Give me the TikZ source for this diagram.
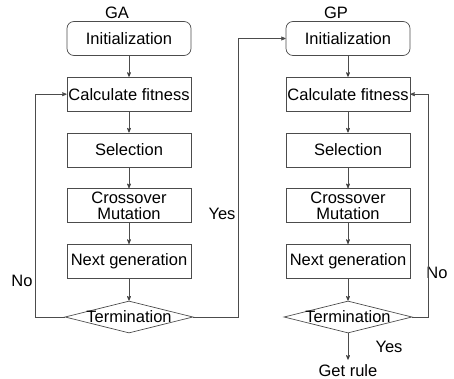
\documentclass[tikz,border=0pt]{standalone}
\usepackage{fontspec}
\setmainfont{Liberation Sans}
\usetikzlibrary{arrows,positioning,shapes.geometric}

\begin{document}
\begin{tikzpicture}[x=1pt,y=-1pt,>=stealth',node distance=55.7pt,
  every node/.style={font=\fontsize{16.5}{18}\selectfont},
  line/.style={draw=black!70,line width=0.7pt},
  proc/.style={draw=black!70,line width=0.7pt,rectangle,minimum width=124pt,minimum height=34pt,inner sep=1pt},
  start/.style={proc,rounded corners=7pt},
  test/.style={draw=black!70,line width=0.7pt,diamond,aspect=4.2,minimum width=128pt,minimum height=32pt,inner sep=-2pt}]
\useasboundingbox (0,0) rectangle (454,379);

% GA
\node (gaTitle) at (117,13) {GA};
\node[start] (gaInit) at (129,38.5) {Initialization};
\node[proc]  (gaFit)  [below of=gaInit] {Calculate fitness};
\node[proc]  (gaSel)  [below of=gaFit]  {Selection};
\node[proc,align=center,font=\fontsize{16.5}{16}\selectfont] (gaCross) [below of=gaSel] {Crossover\\Mutation};
\node[proc]  (gaNext) [below of=gaCross] {Next generation};
\node[test]  (gaTerm) [below of=gaNext] {Termination};

% GP
\node (gpTitle) at (336,13) {GP};
\node[start] (gpInit) at (348,38.5) {Initialization};
\node[proc]  (gpFit)  [below of=gpInit] {Calculate fitness};
\node[proc]  (gpSel)  [below of=gpFit]  {Selection};
\node[proc,align=center,font=\fontsize{16.5}{16}\selectfont] (gpCross) [below of=gpSel] {Crossover\\Mutation};
\node[proc]  (gpNext) [below of=gpCross] {Next generation};
\node[test]  (gpTerm) [below of=gpNext] {Termination};
\node[inner sep=1pt] (gpRule) at (348,371) {Get rule};

\node (gaNo)  at (22,281)  {No};
\node (gaYes) at (222,214) {Yes};
\node (gpNo)  at (437,273) {No};
\node (gpYes) at (389,347) {Yes};

\path[line,->] (gaInit) edge (gaFit)
  (gaFit) edge (gaSel)
  (gaSel) edge (gaCross)
  (gaCross) edge (gaNext)
  (gaNext) edge (gaTerm)
  (gpInit) edge (gpFit)
  (gpFit) edge (gpSel)
  (gpSel) edge (gpCross)
  (gpCross) edge (gpNext)
  (gpNext) edge (gpTerm)
  (gpTerm) edge[shorten >=4pt] (gpRule);

\draw[line,->] (gaTerm.west) -- ++(-29,0) |- (gaFit.west);
\draw[line,->] (gaTerm.east) -- ++(45,0) |- (gpInit.west);
\draw[line,->] (gpTerm.east) -- ++(16,0) |- (gpFit.east);
\end{tikzpicture}
\end{document}
